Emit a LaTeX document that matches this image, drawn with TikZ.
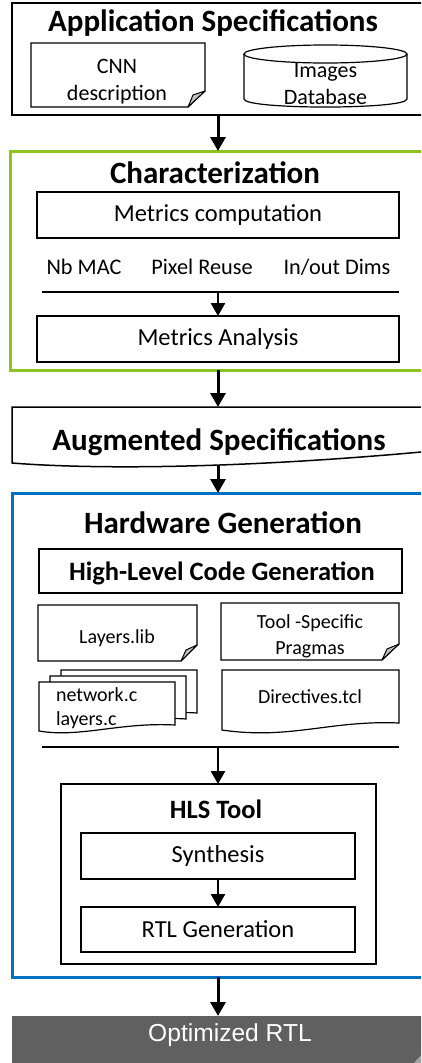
\documentclass[tikz,border=0pt]{standalone}
\usepackage{fontspec}
\setmainfont{Carlito}
\newfontfamily\arialfont{Liberation Sans}
\usetikzlibrary{arrows.meta}
\definecolor{cgreen}{HTML}{8DC21F}
\definecolor{cblue}{HTML}{0070C0}
\definecolor{cgray}{HTML}{606060}
\definecolor{cfold}{HTML}{C0C0C0}
\begin{document}
\begin{tikzpicture}[x=1pt,y=-1pt,
  every node/.style={inner sep=0pt, outer sep=0pt},
  frame/.style={draw, line width=2pt},
  pbox/.style={draw, line width=1.5pt, fill=white, font=\fontsize{24.5}{28}\selectfont},
  ttl/.style={font=\bfseries\fontsize{31}{35}\selectfont},
  doctxt/.style={font=\fontsize{20}{26}\selectfont, align=center},
  bigdoc/.style={font=\fontsize{22}{27}\selectfont, align=center},
  lbl/.style={font=\fontsize{22.3}{26}\selectfont},
  docline/.style={draw, line width=1.2pt, fill=white},
  fold/.style={fill=cfold, draw, line width=1pt, line join=round},
  big/.style={-{Triangle[length=14pt,width=15pt]}, line width=3pt},
  small/.style={-{Triangle[length=13pt,width=14pt]}, line width=2.5pt},
  sep/.style={line width=1.2pt},
]
\useasboundingbox (0,0) rectangle (421,1063);
\clip (0,0) rectangle (421,1063);

% ---------- Application Specifications ----------
\node[frame, minimum width=412pt, minimum height=112pt] (app) at (218,59) {};
\node[ttl] (apptitle) at (213,23) {Application Specifications};
% CNN description (folded document)
\draw[docline] (31,43) -- (205,43) -- (205,91) -- (188,107) -- (31,107) -- cycle;
\draw[fold] (205,91) -- (188,107) -- (193,95) -- cycle;
\node[bigdoc] (cnn) at (117,82) {CNN\\description};
% Images Database (cylinder)
\draw[docline] (244,54) -- (244,99) .. controls (244,109.7) and (407,109.7) .. (407,99) -- (407,54);
\draw[line width=1.2pt] (325.5,54) ellipse [x radius=81.5pt, y radius=9pt];
\node[bigdoc] (imgdb) at (325.5,84) {Images\\Database};

% ---------- Characterization ----------
\node[draw=cgreen, line width=3pt, minimum width=416pt, minimum height=219pt] (char) at (218,260.5) {};
\node[ttl] (chartitle) at (215,173) {Characterization};
\node[pbox, minimum width=362pt, minimum height=46pt] (mcomp) at (218,215) {Metrics computation};
\node[lbl] (nbmac) at (84,267) {Nb MAC};
\node[lbl] (pixre) at (202,267) {Pixel Reuse};
\node[lbl] (iodim) at (337,267) {In/out Dims};
\coordinate (sepA) at (42,292);
\coordinate (sepAend) at (399,292);
\coordinate (sepAmid) at (218,292);
\draw[sep] (sepA) -- (sepAend);
\node[pbox, minimum width=362pt, minimum height=46pt] (manal) at (218,339) {Metrics Analysis};
\draw[small] (sepAmid) -- (manal.north);

% ---------- Augmented Specifications ----------
\draw[line width=1.5pt, fill=white] (12,407) -- (432,407) -- (432,451) .. controls (250,468) and (100,470) .. (12,463) -- cycle;
\node[minimum width=412pt, minimum height=46pt] (aug) at (218,430) {};
\node[ttl] (augtitle) at (219,442) {Augmented Specifications};
\coordinate (augbot) at (218,466);

% ---------- Hardware Generation ----------
\node[draw=cblue, line width=3pt, minimum width=412pt, minimum height=484pt] (hw) at (218,735) {};
\node[ttl] (hwtitle) at (223,523) {Hardware Generation};
\node[draw, line width=2pt, minimum width=363pt, minimum height=44pt] (hlcg) at (220.5,571) {};
\node[font=\bfseries\fontsize{26.5}{30}\selectfont] (hlcgtxt) at (222,573) {High-Level Code Generation};
% Layers.lib
\draw[docline] (38,605) -- (197,605) -- (197,645) -- (181,661) -- (38,661) -- cycle;
\draw[fold] (197,645) -- (181,661) -- (186,650) -- cycle;
\node[doctxt] (layerslib) at (117,638) {Layers.lib};
% Tool-Specific Pragmas
\draw[docline] (221,603) -- (399,603) -- (399,644) -- (382,660) -- (221,660) -- cycle;
\draw[fold] (399,644) -- (382,660) -- (387,649) -- cycle;
\node[doctxt] (pragmas) at (310,636.5) {Tool -Specific\\Pragmas};
% network.c / layers.c (multi document)
\draw[docline] (61,670) -- (197,670) -- (197,713) .. controls (160,710) and (120,724) .. (61,718) -- cycle;
\draw[docline] (50,676) -- (186,676) -- (186,719) .. controls (150,716) and (110,730) .. (50,724) -- cycle;
\draw[docline] (39,682) -- (175,682) -- (175,725) .. controls (120,722) and (80,738) .. (39,731) -- cycle;
\node[doctxt, align=left, anchor=west, font=\fontsize{20}{24}\selectfont] (netc) at (56,708) {network.c\\layers.c};
% Directives.tcl
\draw[docline] (222,670) -- (399,670) -- (399,723) .. controls (330,720) and (290,740) .. (222,730) -- cycle;
\node[doctxt] (dirtcl) at (310,697) {Directives.tcl};
\coordinate (sepB) at (42,747);
\coordinate (sepBend) at (399,747);
\coordinate (sepBmid) at (218,747);
\draw[sep] (sepB) -- (sepBend);
% HLS Tool
\node[draw, line width=2pt, minimum width=315pt, minimum height=180pt] (hls) at (218.5,874) {};
\node[font=\bfseries\fontsize{26.5}{30}\selectfont] (hlstitle) at (216,809) {HLS Tool};
\node[pbox, minimum width=274pt, minimum height=46pt] (synth) at (218,856) {Synthesis};
\node[pbox, minimum width=274pt, minimum height=45pt] (rtlgen) at (218,929.5) {RTL Generation};
\draw[small] (sepBmid) -- (hls.north -| sepBmid);
\draw[small] (synth) -- (rtlgen);

% ---------- Optimized RTL ----------
\node[fill=cgray, minimum width=412pt, minimum height=48pt] (rtl) at (218,1040) {};
\fill[cfold!70!cgray] (424,1052) -- (424,1064) -- (413,1064) -- cycle;
\node[font=\arialfont\fontsize{24.6}{28}\selectfont, text=white] (rtltxt) at (230,1035) {Optimized RTL};

% ---------- main flow ----------
\draw[big] (app.south) -- (char.north);
\draw[big] (char.south) -- (aug.north);
\draw[big] (augbot) -- (hw.north);
\draw[big] (hw.south) -- (rtl.north);
\end{tikzpicture}
\end{document}
